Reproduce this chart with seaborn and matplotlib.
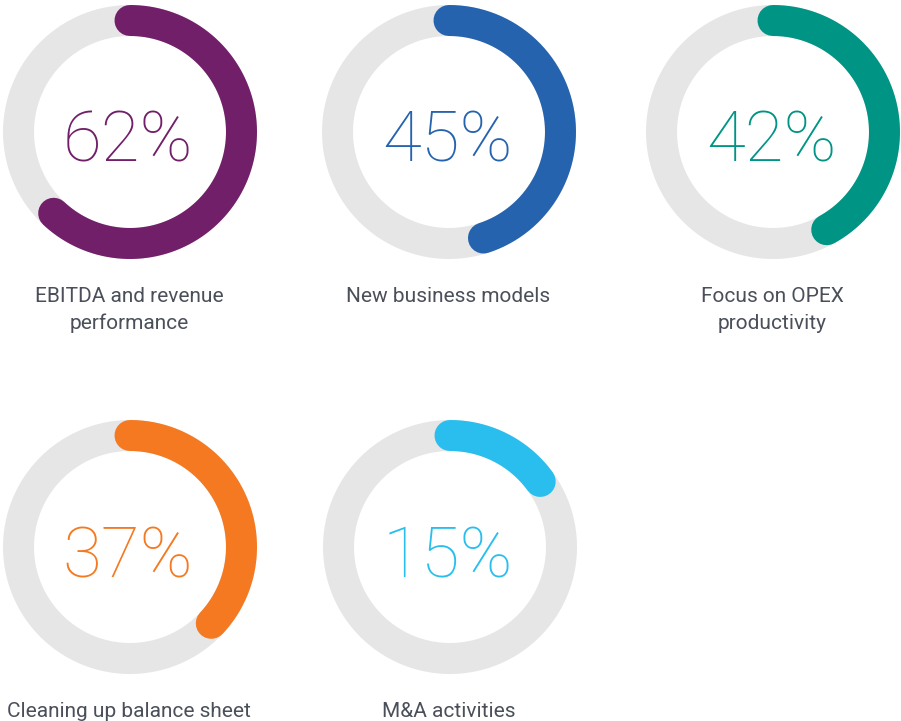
import numpy as np
import pandas as pd
import matplotlib
matplotlib.use("Agg")
import matplotlib.pyplot as plt
import seaborn as sns

# ---- data ----
categories = ["EBITDA and revenue\nperformance", "New business models",
              "Focus on OPEX\nproductivity", "Cleaning up balance sheet",
              "M&A activities"]
values = [62, 45, 42, 37, 15]
colors = ["#721f6a", "#2663ae", "#009485", "#f47921", "#29beee"]

# ---- layout (pixels) ----
W, H, DPI = 901, 721, 100
centers_x = [130, 449, 773, 130, 450]
centers_y = [132, 132, 132, 547, 547]
R = 111.5          # centre-line radius of ring
RING_PX = 31       # ring thickness in pixels
lw = RING_PX * 72 / DPI

sns.set_theme(style="white")
plt.rcParams['font.family'] = ['Roboto', 'DejaVu Sans']

fig = plt.figure(figsize=(W / DPI, H / DPI), dpi=DPI)
ax = fig.add_axes([0, 0, 1, 1])
ax.set_xlim(0, W)
ax.set_ylim(H, 0)
ax.set_aspect('equal')
ax.axis('off')

for cat, val, col, cx, cy in zip(categories, values, colors, centers_x, centers_y):
    # background ring
    th = np.linspace(0, 2 * np.pi, 361)
    bg = pd.DataFrame({"x": cx + R * np.sin(th), "y": cy - R * np.cos(th)})
    sns.lineplot(data=bg, x="x", y="y", sort=False, estimator=None, ax=ax,
                 color="#e6e6e6", linewidth=lw, solid_capstyle='butt')
    # value arc (clockwise from 12 o'clock)
    th = np.linspace(0, 2 * np.pi * val / 100, 300)
    arc = pd.DataFrame({"x": cx + R * np.sin(th), "y": cy - R * np.cos(th)})
    sns.lineplot(data=arc, x="x", y="y", sort=False, estimator=None, ax=ax,
                 color=col, linewidth=lw, solid_capstyle='round')
    # percent text
    ax.text(cx - 2, cy + 30, f"{val}%", ha='center', va='baseline', color=col,
            fontsize=51, fontweight=100)
    # label lines
    for i, line in enumerate(cat.split("\n")):
        ax.text(cx - 1, cy + 170 + i * 27, line, ha='center', va='baseline',
                color="#4a4f59", fontsize=15)

ax.set_xlabel("")
ax.set_ylabel("")
fig.savefig("out.png", dpi=DPI)
